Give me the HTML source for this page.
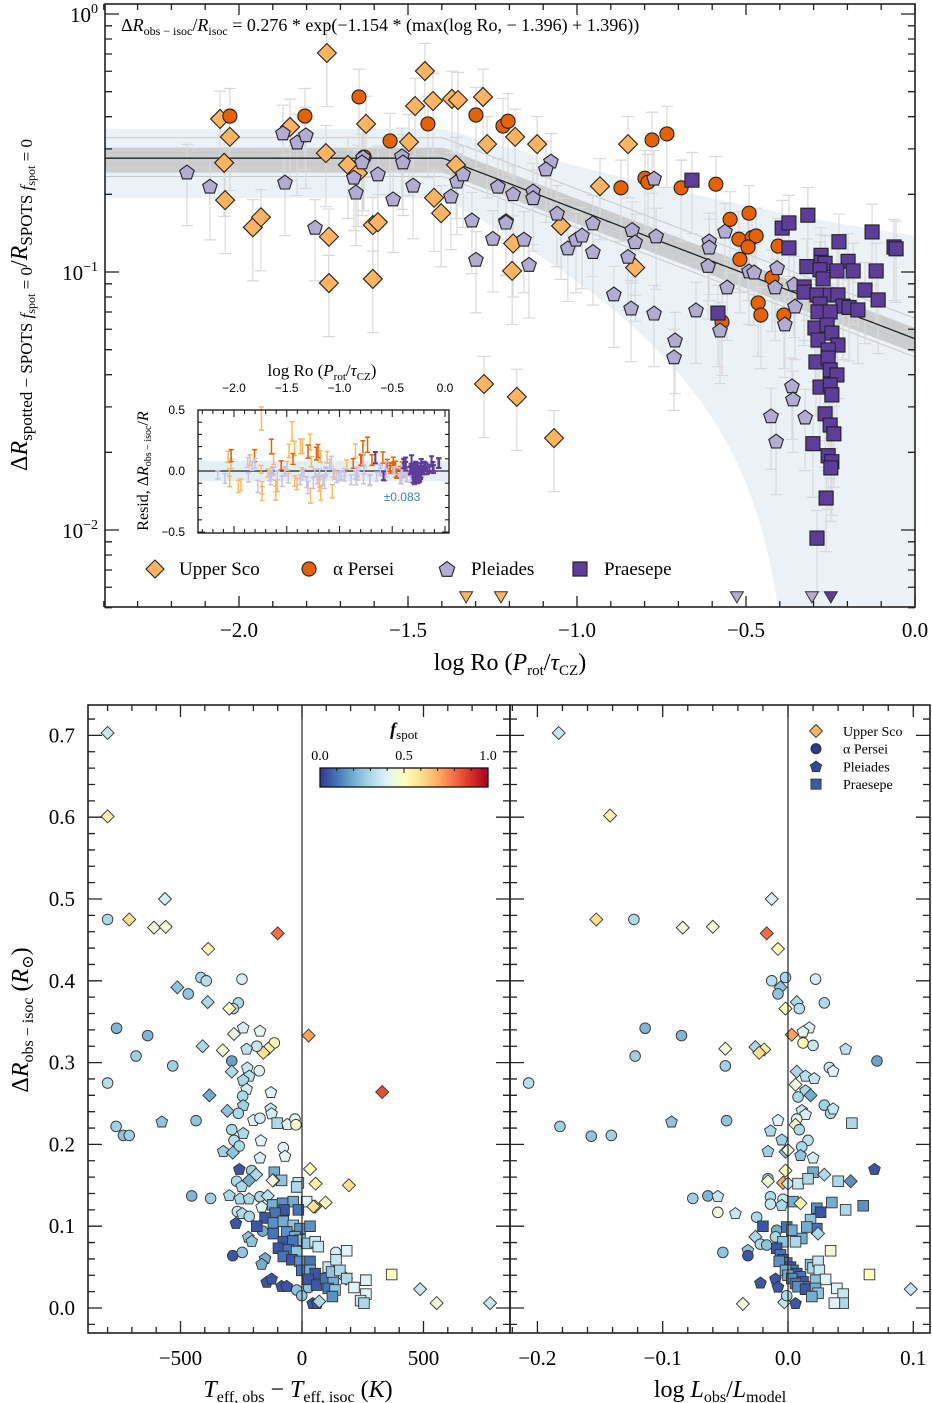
<!DOCTYPE html>
<html><head><meta charset="utf-8">
<style>
html,body{margin:0;padding:0;background:#fff;}
svg{display:block;font-family:"Liberation Serif","DejaVu Serif",serif;}
</style></head>
<body>
<svg id="fig" width="932" height="1403" viewBox="0 0 932 1403" xmlns="http://www.w3.org/2000/svg">
  <rect x="0" y="0" width="932" height="1403" fill="#fff"/>
  <g id="topBands"></g>
  <g id="topErr"></g>
  <g id="topFit"></g>
  <g id="topMarks"></g>
  <g id="topAxes"></g>
  <text x="121" y="31" font-size="18">Δ<tspan font-style="italic">R</tspan><tspan font-size="12" dy="4">obs − isoc</tspan><tspan dy="-4">/</tspan><tspan font-style="italic">R</tspan><tspan font-size="12" dy="4">isoc</tspan><tspan dy="-4"> = 0.276 * exp(−1.154 * (max(log Ro, − 1.396) + 1.396))</tspan></text>
  <g id="inset"></g>
  <g id="topLegend"></g>
  <text x="510" y="670" font-size="24" text-anchor="middle">log Ro (<tspan font-style="italic">P</tspan><tspan font-size="15" dy="5">rot</tspan><tspan dy="-5">/</tspan><tspan font-style="italic">τ</tspan><tspan font-size="15" dy="5">CZ</tspan><tspan dy="-5">)</tspan></text>
  <text transform="translate(27,305) rotate(-90)" font-size="24" text-anchor="middle">Δ<tspan font-style="italic">R</tspan><tspan font-size="17" dy="5">spotted − SPOTS <tspan font-style="italic">f</tspan><tspan font-size="12" dy="3">spot</tspan><tspan dy="-3"> = 0</tspan></tspan><tspan dy="-5">/</tspan><tspan font-style="italic">R</tspan><tspan font-size="17" dy="5">SPOTS <tspan font-style="italic">f</tspan><tspan font-size="12" dy="3">spot</tspan><tspan dy="-3"> = 0</tspan></tspan></text>
  <g id="blMarks"></g>
  <g id="brMarks"></g>
  <g id="botAxes"></g>
  <g id="cbar"></g>
  <g id="brLegend"></g>
  <text x="298" y="1397" font-size="24" text-anchor="middle"><tspan font-style="italic">T</tspan><tspan font-size="16" dy="5">eff, obs</tspan><tspan dy="-5"> − </tspan><tspan font-style="italic">T</tspan><tspan font-size="16" dy="5">eff, isoc</tspan><tspan dy="-5"> (</tspan><tspan font-style="italic">K</tspan>)</text>
  <text x="720" y="1397" font-size="24" text-anchor="middle">log <tspan font-style="italic">L</tspan><tspan font-size="16" dy="5">obs</tspan><tspan dy="-5">/</tspan><tspan font-style="italic">L</tspan><tspan font-size="16" dy="5">model</tspan></text>
  <text transform="translate(28,1020) rotate(-90)" font-size="24" text-anchor="middle">Δ<tspan font-style="italic">R</tspan><tspan font-size="16" dy="5">obs − isoc</tspan><tspan dy="-5"> (</tspan><tspan font-style="italic">R</tspan><tspan font-size="16" dy="5">⊙</tspan><tspan dy="-5">)</tspan></text>
</svg>
<script>
// ---------- data: top panel (logRo, dR) ----------
const usco = [[-1.740,0.706],[-1.450,0.601],[-2.056,0.392],[-2.027,0.334],[-1.624,0.375],[-1.479,0.440],[-1.426,0.460],[-1.370,0.469],[-1.352,0.464],[-1.278,0.477],[-1.266,0.313],[-1.849,0.365],[-2.044,0.265],[-2.041,0.190],[-1.743,0.289],[-1.678,0.260],[-1.648,0.242],[-1.497,0.319],[-1.358,0.260],[-1.423,0.194],[-1.402,0.169],[-1.959,0.149],[-1.935,0.163],[-1.734,0.137],[-1.734,0.0906],[-1.604,0.152],[-1.589,0.156],[-1.604,0.094],[-1.183,0.334],[-1.118,0.313],[-0.849,0.313],[-0.932,0.215],[-1.047,0.151],[-1.189,0.129],[-1.192,0.101],[-0.828,0.104],[-1.275,0.0368],[-1.178,0.0328],[-1.068,0.0227]];
const aper = [[-2.027,0.402],[-1.805,0.402],[-1.645,0.477],[-1.441,0.375],[-1.553,0.322],[-1.630,0.279],[-1.299,0.406],[-1.219,0.368],[-1.204,0.384],[-0.778,0.325],[-0.734,0.343],[-0.799,0.231],[-0.790,0.223],[-0.870,0.212],[-0.692,0.212],[-0.589,0.219],[-0.547,0.160],[-0.491,0.169],[-0.521,0.134],[-0.482,0.136],[-0.470,0.138],[-0.494,0.125],[-0.518,0.112],[-0.405,0.126],[-0.423,0.095],[-0.464,0.0759],[-0.456,0.0681],[-0.571,0.0640],[-0.388,0.0681]];
const plei = [[-2.154,0.244],[-2.086,0.215],[-1.864,0.223],[-1.870,0.346],[-1.828,0.319],[-1.802,0.340],[-1.775,0.149],[-1.654,0.204],[-1.660,0.233],[-1.633,0.279],[-1.636,0.267],[-1.589,0.240],[-1.544,0.192],[-1.518,0.282],[-1.515,0.267],[-1.485,0.217],[-1.373,0.197],[-1.355,0.225],[-1.337,0.240],[-1.311,0.159],[-1.299,0.112],[-1.249,0.135],[-1.234,0.215],[-1.210,0.158],[-1.189,0.201],[-1.077,0.269],[-1.092,0.251],[-1.130,0.206],[-1.130,0.194],[-1.210,0.156],[-1.059,0.169],[-1.157,0.134],[-1.142,0.107],[-1.027,0.124],[-1.003,0.134],[-0.985,0.139],[-0.953,0.155],[-0.953,0.120],[-0.837,0.146],[-0.828,0.131],[-0.766,0.138],[-0.849,0.115],[-0.891,0.0822],[-0.840,0.0725],[-0.772,0.0693],[-0.648,0.0713],[-0.612,0.106],[-0.609,0.132],[-0.609,0.125],[-0.562,0.144],[-0.556,0.0875],[-0.491,0.101],[-0.476,0.100],[-0.408,0.104],[-0.414,0.0875],[-0.358,0.0898],[-0.355,0.0738],[-0.772,0.231],[-0.710,0.0545],[-0.713,0.0469],[-0.577,0.0596],[-0.364,0.0362],[-0.361,0.0322],[-0.426,0.0277],[-0.325,0.0274],[-0.411,0.0221],[-0.385,0.0629]];
const prae = [[-0.660,0.227],[-0.393,0.148],[-0.373,0.155],[-0.317,0.166],[-0.373,0.124],[-0.127,0.143],[-0.225,0.131],[-0.062,0.125],[-0.056,0.123],[-0.278,0.116],[-0.278,0.109],[-0.266,0.108],[-0.198,0.110],[-0.320,0.105],[-0.281,0.102],[-0.231,0.101],[-0.183,0.101],[-0.115,0.101],[-0.272,0.094],[-0.328,0.0875],[-0.148,0.0851],[-0.109,0.0779],[-0.328,0.0836],[-0.290,0.0815],[-0.251,0.0815],[-0.228,0.0815],[-0.281,0.0751],[-0.213,0.0738],[-0.195,0.0729],[-0.169,0.0713],[-0.287,0.070],[-0.251,0.070],[-0.583,0.0693],[-0.296,0.0607],[-0.260,0.0623],[-0.246,0.0580],[-0.287,0.0545],[-0.228,0.0521],[-0.257,0.0499],[-0.293,0.0448],[-0.257,0.0464],[-0.251,0.0417],[-0.231,0.0399],[-0.281,0.0358],[-0.251,0.0365],[-0.246,0.0334],[-0.266,0.0282],[-0.251,0.0255],[-0.240,0.0236],[-0.302,0.0216],[-0.257,0.0194],[-0.246,0.0184],[-0.249,0.0174],[-0.263,0.0133],[-0.290,0.0093]];
const uscoLimits = [-1.328,-1.225];
const pleiLimits = [-0.527,-0.305];
const praeLimits = [-0.249];
const fitAmp = 0.276, fitSlope = 1.154, fitKnee = -1.396, residScatter = 0.083;

// ---------- data: bottom panels [cluster, x, dR, fspot] ----------
const teffStars = [['U',-800,0.703,0.35],['U',-800,0.601,0.55],['U',-564,0.500,0.38],['A',-800,0.475,0.3],['U',-711,0.475,0.6],['U',-609,0.465,0.45],['U',-561,0.466,0.47],['U',-100,0.458,0.8],['U',-386,0.439,0.52],['A',-416,0.404,0.3],['A',-394,0.400,0.32],['A',-247,0.402,0.38],['U',-513,0.392,0.25],['A',-468,0.384,0.25],['U',-388,0.374,0.3],['A',-262,0.373,0.3],['A',-283,0.366,0.32],['U',-299,0.366,0.5],['A',-763,0.342,0.22],['A',-635,0.333,0.22],['P',-242,0.343,0.38],['U',-280,0.335,0.43],['P',-173,0.339,0.42],['A',-114,0.324,0.52],['U',27,0.333,0.72],['U',-139,0.317,0.55],['U',-159,0.312,0.6],['A',-186,0.320,0.35],['P',-228,0.317,0.33],['U',-326,0.315,0.45],['U',-409,0.320,0.3],['A',-683,0.308,0.28],['A',-532,0.296,0.28],['A',-800,0.275,0.32],['A',-289,0.302,0.18],['U',-289,0.289,0.3],['P',-225,0.294,0.35],['P',-217,0.284,0.32],['A',-176,0.290,0.4],['P',-242,0.279,0.3],['P',-228,0.268,0.38],['A',-244,0.259,0.3],['P',-242,0.248,0.28],['P',-128,0.264,0.4],['U',-381,0.260,0.2],['U',-307,0.241,0.25],['A',-262,0.238,0.3],['P',-129,0.244,0.35],['P',-125,0.238,0.38],['P',-577,0.228,0.25],['A',-436,0.229,0.25],['A',-765,0.222,0.28],['A',-735,0.211,0.25],['A',-711,0.211,0.28],['P',-200,0.230,0.4],['A',-173,0.232,0.38],['R',-102,0.226,0.3],['P',-60,0.225,0.4],['A',-29,0.231,0.42],['A',-25,0.224,0.48],['A',-289,0.218,0.3],['P',-242,0.214,0.3],['A',-280,0.205,0.33],['A',-258,0.198,0.3],['P',-324,0.192,0.28],['U',-285,0.190,0.25],['P',-169,0.205,0.4],['P',-173,0.184,0.38],['A',-77,0.196,0.4],['P',-70,0.186,0.42],['P',-258,0.170,0.05],['A',-207,0.168,0.28],['U',-189,0.163,0.3],['U',33,0.170,0.5],['U',56,0.152,0.55],['U',193,0.150,0.6],['R',-114,0.166,0.2],['R',-84,0.156,0.25],['U',-118,0.156,0.45],['R',-15,0.153,0.35],['R',-22,0.148,0.3],['A',-269,0.155,0.3],['P',-248,0.149,0.3],['U',-218,0.156,0.2],['A',-454,0.137,0.22],['A',-376,0.134,0.28],['P',-299,0.138,0.3],['P',-255,0.134,0.3],['P',-218,0.134,0.3],['A',-173,0.136,0.3],['U',-141,0.137,0.33],['R',19,0.130,0.4],['U',97,0.129,0.5],['U',54,0.124,0.55],['P',-166,0.124,0.4],['A',-266,0.118,0.35],['P',-246,0.116,0.3],['A',-217,0.112,0.3],
['P',-272,0.104,0.05],['P',-221,0.087,0.25],['P',-207,0.082,0.25],['A',-162,0.094,0.2],['A',-285,0.064,0.05],['A',-246,0.068,0.25],['P',-152,0.061,0.2],['P',-166,0.054,0.2],['P',-145,0.032,0.05],['P',-125,0.036,0.05],['P',-84,0.027,0.05],['P',-63,0.027,0.05],['A',-22,0.022,0.25],['A',-1,0.015,0.25],['A',27,0.025,0.25],['P',44,0.006,0.05],['P',63,0.006,0.05],['U',71,0.008,0.3],['A',139,0.068,0.38],['U',181,0.036,0.3],['U',486,0.023,0.35],['U',554,0.006,0.45],['U',774,0.006,0.35],['U',330,0.264,0.85],['U',-121,0.156,0.45],['U',47,0.124,0.6],
['R',-121,0.126,0.2],['R',-80,0.128,0.15],['R',-36,0.130,0.2],['R',-15,0.120,0.1],['R',-74,0.120,0.05],['R',-111,0.116,0.1],['R',-152,0.110,0.05],['R',-186,0.100,0.05],['R',-118,0.104,0.15],['R',-77,0.106,0.2],['R',-36,0.101,0.25],['R',-8,0.097,0.15],['R',33,0.100,0.15],['R',-118,0.091,0.1],['R',-63,0.093,0.15],['R',-29,0.087,0.2],['R',-8,0.083,0.25],['R',-77,0.081,0.05],['R',-38,0.082,0.1],['R',-97,0.073,0.05],['R',-56,0.071,0.1],['R',-22,0.069,0.25],['R',19,0.079,0.25],['R',54,0.081,0.35],['R',67,0.075,0.35],['R',-77,0.063,0.1],['R',-42,0.059,0.05],['R',-8,0.057,0.15],['R',33,0.057,0.1],['R',-1,0.046,0.1],['R',33,0.046,0.2],['R',54,0.042,0.05],['R',26,0.035,0.05],['R',60,0.028,0.05],['R',97,0.036,0.1],['R',129,0.034,0.2],['R',108,0.024,0.1],['R',136,0.022,0.25],['R',125,0.014,0.15],['R',108,0.050,0.35],['R',122,0.044,0.25],['R',156,0.046,0.3],['R',184,0.070,0.4],['R',140,0.059,0.35],['R',184,0.036,0.3],['R',263,0.034,0.4],['R',214,0.025,0.4],['R',263,0.017,0.4],['R',241,0.009,0.35],['R',255,0.006,0.3],['R',369,0.041,0.5]];
const lumStars = [['U',-0.183,0.703,0.35],['U',-0.142,0.602,0.55],['U',-0.153,0.475,0.6],['A',-0.123,0.475,0.3],['U',-0.084,0.465,0.45],['U',-0.060,0.466,0.47],['U',-0.013,0.500,0.38],['U',-0.017,0.458,0.8],['U',-0.008,0.439,0.52],['A',-0.013,0.400,0.32],['A',-0.002,0.404,0.3],['A',0.022,0.402,0.38],['U',-0.006,0.392,0.25],['A',-0.008,0.384,0.25],['U',0.007,0.374,0.3],['A',0.009,0.366,0.32],['A',0.029,0.373,0.3],['U',-0.002,0.366,0.5],['A',-0.114,0.342,0.22],['A',-0.085,0.333,0.22],['P',0.017,0.343,0.38],['P',0.012,0.338,0.42],['U',0.003,0.334,0.72],['A',0.012,0.324,0.52],['A',0.020,0.321,0.35],['P',0.046,0.317,0.33],['U',-0.050,0.317,0.45],['U',-0.026,0.319,0.3],['U',-0.019,0.316,0.55],['U',-0.023,0.312,0.6],['A',-0.122,0.308,0.28],['A',-0.050,0.296,0.28],['A',-0.207,0.275,0.32],['A',0.071,0.302,0.18],['U',0.007,0.289,0.3],['P',0.014,0.284,0.32],['P',0.021,0.281,0.35],['A',0.033,0.294,0.35],['P',0.036,0.290,0.4],['U',0.006,0.273,0.45],['P',0.014,0.266,0.3],['U',0.018,0.260,0.2],['A',0.008,0.258,0.3],['A',0.029,0.248,0.28],['A',0.034,0.238,0.3],['P',0.036,0.244,0.35],['P',0.011,0.242,0.35],['P',0.014,0.237,0.38],['A',0.007,0.231,0.42],['U',0.006,0.224,0.48],['A',0.009,0.218,0.3],['A',0.016,0.205,0.33],['A',0.011,0.197,0.3],['P',0.010,0.187,0.25],['P',0.020,0.184,0.38],['R',0.051,0.226,0.3],['P',-0.008,0.230,0.4],['P',-0.014,0.217,0.3],['P',-0.005,0.206,0.28],['P',-0.016,0.192,0.28],['U',-0.002,0.191,0.25],['U',0.000,0.193,0.45],['P',-0.093,0.228,0.25],['A',-0.049,0.229,0.25],['A',-0.182,0.222,0.28],['A',-0.157,0.210,0.25],['A',-0.141,0.211,0.28],['P',0.069,0.170,0.05],['U',-0.002,0.168,0.5],['R',0.020,0.166,0.2],['U',0.029,0.163,0.3],['R',0.040,0.155,0.3],['U',0.050,0.155,0.15],['A',-0.016,0.158,0.3],['U',-0.016,0.155,0.45],['U',-0.004,0.153,0.7],['U',0.000,0.152,0.35],['R',0.008,0.152,0.35],['R',0.016,0.158,0.3],['A',-0.076,0.134,0.28],['A',-0.064,0.137,0.22],['P',-0.056,0.137,0.35],['A',-0.056,0.117,0.45],['P',-0.042,0.116,0.35],['A',-0.025,0.111,0.3],['A',-0.014,0.136,0.3],['A',-0.014,0.127,0.35],['A',-0.004,0.133,0.35],['R',0.004,0.130,0.2],['U',0.010,0.128,0.55],['P',-0.005,0.126,0.3],['R',0.035,0.129,0.2],['R',0.060,0.125,0.15],['R',0.046,0.120,0.3],['R',0.023,0.122,0.15],['R',0.026,0.117,0.05],['R',0.018,0.108,0.25],['R',0.023,0.097,0.1],['R',0.015,0.099,0.2],['R',0.011,0.085,0.2],['U',0.024,0.091,0.3],['R',0.034,0.070,0.45],['R',-0.020,0.100,0.05],['A',-0.009,0.095,0.2],['R',-0.001,0.099,0.1],['R',0.003,0.095,0.2],['A',-0.010,0.087,0.3],['R',-0.004,0.081,0.25],['R',0.006,0.081,0.3],['U',-0.026,0.087,0.3],['A',-0.022,0.078,0.3],['A',-0.017,0.077,0.25],['P',-0.032,0.071,0.25],['A',-0.052,0.068,0.25],['A',-0.032,0.064,0.05],
['R',-0.009,0.073,0.05],['R',-0.006,0.065,0.1],['R',-0.004,0.059,0.05],['R',-0.001,0.055,0.1],['R',0.002,0.050,0.05],['R',0.004,0.046,0.1],['R',0.007,0.042,0.05],['R',0.010,0.038,0.1],['R',0.012,0.032,0.05],['R',0.015,0.026,0.1],['R',-0.007,0.057,0.15],['R',-0.002,0.046,0.2],['R',0.000,0.040,0.2],['R',0.003,0.036,0.15],['R',0.006,0.030,0.1],['R',0.008,0.026,0.15],['R',0.014,0.023,0.05],['R',0.018,0.053,0.25],['R',0.020,0.049,0.3],['R',0.024,0.057,0.35],['R',0.025,0.046,0.35],['R',0.022,0.034,0.25],['R',0.030,0.035,0.4],['R',0.022,0.024,0.2],['R',0.024,0.018,0.25],['R',0.019,0.014,0.2],['R',0.039,0.024,0.4],['R',0.044,0.017,0.35],['R',0.044,0.006,0.3],['R',0.037,0.006,0.4],
['R',0.065,0.041,0.5],['U',0.098,0.023,0.35],['U',-0.036,0.005,0.45],['P',0.006,0.006,0.05],['U',-0.003,0.007,0.35],['A',-0.001,0.015,0.3],['P',-0.022,0.031,0.05],['P',-0.010,0.036,0.05],['P',-0.008,0.026,0.05]];
const cbarTicks = [0.0, 0.5, 1.0];
const legendNames = ['Upper Sco','α Persei','Pleiades','Praesepe'];

// ---------- helpers ----------
const NS = 'http://www.w3.org/2000/svg';
function mk(tag, attrs, parent) {
  const e = document.createElementNS(NS, tag);
  for (const k in attrs) e.setAttribute(k, attrs[k]);
  parent.appendChild(e);
  return e;
}
const $ = id => document.getElementById(id);

const TX0 = 105, TX1 = 915, TY0 = 4, TY1 = 607;
const tx = v => 915 + v * 338;
const ty = v => 14 - Math.log10(v) * 258;
const fit = x => fitAmp * Math.exp(-fitSlope * (Math.max(x, fitKnee) - fitKnee));

const BY0 = 705, BY1 = 1333;
const blx = v => 302 + v * 121.5 / 500;
const brx = v => 788 + v * 1253;
const by = v => 1308 - v * 818;

const cmStops = ['#313695','#4575b4','#74add1','#abd9e9','#e0f3f8','#ffffbf','#fee090','#fdae61','#f46d43','#d73027','#a50026'];
function hex2rgb(h){return [parseInt(h.substr(1,2),16),parseInt(h.substr(3,2),16),parseInt(h.substr(5,2),16)];}
function cmap(f){
  f = Math.max(0, Math.min(1, f));
  const p = f * 10, i = Math.min(9, Math.floor(p)), t = p - i;
  const a = hex2rgb(cmStops[i]), b = hex2rgb(cmStops[i+1]);
  return 'rgb(' + a.map((c,k)=>Math.round(c + (b[k]-c)*t)).join(',') + ')';
}

function shapePath(type, cx, cy, s) {
  if (type === 'U') return `M${cx},${cy-s}L${cx+s},${cy}L${cx},${cy+s}L${cx-s},${cy}Z`;
  if (type === 'R') { const h = s*0.78; return `M${cx-h},${cy-h}H${cx+h}V${cy+h}H${cx-h}Z`; }
  if (type === 'P') {
    let d = '';
    for (let i = 0; i < 5; i++) {
      const a = -Math.PI/2 + i * 2*Math.PI/5;
      d += (i ? 'L' : 'M') + (cx + s*0.9*Math.cos(a)).toFixed(1) + ',' + (cy + s*0.9*Math.sin(a) + s*0.08).toFixed(1);
    }
    return d + 'Z';
  }
  if (type === 'T') return `M${cx-s},${cy-s*0.8}L${cx+s},${cy-s*0.8}L${cx},${cy+s*0.9}Z`;
  return null;
}
function marker(parent, type, cx, cy, s, fill, stroke, sw) {
  let el;
  if (type === 'A') el = mk('circle', {cx: cx, cy: cy, r: s*0.78, fill: fill, stroke: stroke, 'stroke-width': sw}, parent);
  else el = mk('path', {d: shapePath(type, cx, cy, s), fill: fill, stroke: stroke, 'stroke-width': sw, 'stroke-linejoin': 'miter'}, parent);
  return el;
}

// ---------- top panel ----------
const topColors = {U: '#fdb462', A: '#e66101', P: '#b2abd2', R: '#5e3c99'};
const topSeries = [['U', usco, 'upper-sco'], ['A', aper, 'alpha-persei'], ['P', plei, 'pleiades'], ['R', prae, 'praesepe']];
(function drawTop(){
  const bands = $('topBands');
  const defs = mk('defs', {}, $('fig'));
  const cp = mk('clipPath', {id: 'topClip'}, defs);
  mk('rect', {x: TX0, y: TY0, width: TX1-TX0, height: TY1-TY0}, cp);
  bands.setAttribute('clip-path', 'url(#topClip)');
  $('topErr').setAttribute('clip-path', 'url(#topClip)');
  $('topFit').setAttribute('clip-path', 'url(#topClip)');
  let up = '', lo = '';
  const xs = [];
  for (let x = -2.4; x <= 0.0001; x += 0.01) xs.push(x);
  xs.forEach((x,i)=>{ up += (i?'L':'M') + tx(x).toFixed(1) + ',' + ty(fit(x)+residScatter).toFixed(1); });
  xs.slice().reverse().forEach(x=>{ const v = fit(x)-residScatter; lo += 'L' + tx(x).toFixed(1) + ',' + (v > 0.001 ? ty(v) : 700).toFixed(1); });
  const blue = mk('path', {d: up + lo + 'Z', fill: '#e3eef5', opacity: 0.75}, bands);
  
  
  let gu = '', gl = '';
  xs.forEach((x,i)=>{ gu += (i?'L':'M') + tx(x).toFixed(1) + ',' + ty(fit(x)*1.1).toFixed(1); });
  xs.slice().reverse().forEach(x=>{ gl += 'L' + tx(x).toFixed(1) + ',' + ty(fit(x)*0.88).toFixed(1); });
  const gray = mk('path', {d: gu + gl + 'Z', fill: '#bdbdbd', opacity: 0.7}, bands);
  
  
  [1.2, 1.05, 0.95, 0.85].forEach(m=>{
    let d=''; xs.forEach((x,i)=>{ d += (i?'L':'M') + tx(x).toFixed(1) + ',' + ty(fit(x)*m).toFixed(1); });
    const l = mk('path', {d: d, fill: 'none', stroke: '#c8c8c8', 'stroke-width': 1}, bands);
    
    
  });
  let fd=''; xs.forEach((x,i)=>{ fd += (i?'L':'M') + tx(x).toFixed(1) + ',' + ty(fit(x)).toFixed(1); });
  const fl = mk('path', {d: fd, fill: 'none', stroke: '#222', 'stroke-width': 1.3}, $('topFit'));
  
  
  const eg = $('topErr'), mg = $('topMarks');
  topSeries.forEach(([t, arr, nm])=>{
    arr.forEach(([x, v])=>{
      const px = tx(x), lo2 = Math.max(v*0.62, 0.003), hi2 = v*1.28;
      const eb = mk('path', {d: `M${px},${ty(lo2)}V${ty(hi2)}M${px-6},${ty(lo2)}H${px+6}M${px-6},${ty(hi2)}H${px+6}`, stroke: '#d9d9d9', 'stroke-width': 1.2, fill: 'none'}, eg);
      
      
    });
  });
  topSeries.forEach(([t, arr, nm])=>{
    arr.forEach(([x, v])=>{
      const m = marker(mg, t, tx(x), ty(v), t==='U'?9.5:(t==='A'?9:(t==='P'?8.5:9)), topColors[t], '#222', 1.1);
      
      
    });
  });
  [[uscoLimits,'U','upper-sco'],[pleiLimits,'P','pleiades'],[praeLimits,'R','praesepe']].forEach(([arr,t,nm])=>{
    arr.forEach(x=>{
      const m = marker(mg, 'T', tx(x), 597, 6.5, topColors[t], '#333', 1);
      
      
    });
  });
  const ax = $('topAxes');
  const fr = mk('rect', {x: TX0, y: TY0, width: TX1-TX0, height: TY1-TY0, fill: 'none', stroke: '#222', 'stroke-width': 1.6}, ax);
  
  
  let td = '';
  for (let i = -24; i <= 0; i++) {
    const x = tx(i/10), L = (i % 5 === 0) ? 11 : 6;
    td += `M${x},${TY1}v${-L}M${x},${TY0}v${L}`;
  }
  for (let e = -3; e <= 0; e++) for (let k = 1; k <= 9; k++) {
    const v = k * Math.pow(10, e); if (v < 0.005 || v > 1.05) continue;
    const y = ty(v), L = k === 1 ? 14 : 7;
    td += `M${TX0},${y}h${L}M${TX1},${y}h${-L}`;
  }
  const tk = mk('path', {d: td, stroke: '#222', 'stroke-width': 1.3, fill: 'none'}, ax);
  
  
  ['−2.0','−1.5','−1.0','−0.5','0.0'].forEach((s,i)=>{
    const t = mk('text', {x: tx(-2 + i*0.5), y: 637, 'font-size': 21, 'text-anchor': 'middle'}, ax);
    t.textContent = s;
    
    
  });
  [[0,'0'],[-1,'−1'],[-2,'−2']].forEach(([e,s])=>{
    const t = mk('text', {x: 98, y: ty(Math.pow(10,e)) + 8, 'font-size': 21, 'text-anchor': 'end'}, ax);
    t.innerHTML = '10<tspan font-size="14" dy="-9">' + s + '</tspan>';
    
    
  });
})();

// ---------- inset ----------
(function drawInset(){
  const g = $('inset');
  const X0 = 198, X1 = 449, Y0 = 410, Y1 = 533;
  const ix = v => 445 + v * 105.5, iy = v => 471 - v * 122;
  const bg = mk('rect', {x: X0, y: Y0, width: X1-X0, height: Y1-Y0, fill: '#fff'}, g);
  
  
  const band = mk('rect', {x: X0, y: iy(residScatter), width: X1-X0, height: iy(-residScatter)-iy(residScatter), fill: '#e3eef5'}, g);
  
  
  const zl = mk('line', {x1: X0, x2: X1, y1: iy(0), y2: iy(0), stroke: '#222', 'stroke-width': 1.2}, g);
  
  
  const cols = {U: '#fdb863', A: '#e66101', P: '#c9c3e3', R: '#5e3c99'};
  topSeries.forEach(([t, arr, nm])=>{
    arr.forEach(([x, v])=>{
      let r = v - fit(x); r = Math.max(-0.48, Math.min(0.48, r));
      const px = ix(x), h = 0.03 + Math.abs(r)*0.15;
      const b = mk('path', {d: `M${px},${iy(r-h)}V${iy(r+h)}M${px-2.5},${iy(r-h)}h5M${px-2.5},${iy(r+h)}h5`, stroke: cols[t], 'stroke-width': t==='R'?2:1.5, fill: 'none'}, g);
      
      
    });
  });
  const fr = mk('rect', {x: X0, y: Y0, width: X1-X0, height: Y1-Y0, fill: 'none', stroke: '#222', 'stroke-width': 1.4}, g);
  
  
  let d = '';
  for (let i = -23; i <= 0; i++) { const x = ix(i/10), L = i % 5 === 0 ? 7 : 4; d += `M${x},${Y0}v${L}M${x},${Y1}v${-L}`; }
  for (let i = -5; i <= 5; i++) { const y = iy(i/10), L = i % 5 === 0 ? 7 : 4; d += `M${X0},${y}h${L}M${X1},${y}h${-L}`; }
  const tk = mk('path', {d: d, stroke: '#222', 'stroke-width': 1.1, fill: 'none'}, g);
  
  
  ['−2.0','−1.5','−1.0','−0.5','0.0'].forEach((s,i)=>{
    const t = mk('text', {x: ix(-2 + i*0.5), y: 392, 'font-size': 12, 'text-anchor': 'middle', 'font-family': 'Liberation Sans, sans-serif'}, g);
    t.textContent = s;
    
    
  });
  [['0.5',0.5],['0.0',0],['−0.5',-0.5]].forEach(([s,v])=>{
    const t = mk('text', {x: 185, y: iy(v)+4, 'font-size': 12, 'text-anchor': 'end', 'font-family': 'Liberation Sans, sans-serif'}, g);
    t.textContent = s;
    
    
  });
  const tt = mk('text', {x: 322, y: 376, 'font-size': 17, 'text-anchor': 'middle'}, g);
  tt.innerHTML = 'log Ro (<tspan font-style="italic">P</tspan><tspan font-size="11" dy="4">rot</tspan><tspan dy="-4">/</tspan><tspan font-style="italic">τ</tspan><tspan font-size="11" dy="4">CZ</tspan><tspan dy="-4">)</tspan>';
  
  
  const yt = mk('text', {transform: 'translate(148,471) rotate(-90)', 'font-size': 16, 'text-anchor': 'middle'}, g);
  yt.innerHTML = 'Resid, Δ<tspan font-style="italic">R</tspan><tspan font-size="10" dy="3">obs − isoc</tspan><tspan dy="-3">/</tspan><tspan font-style="italic">R</tspan>';
  
  
  const st = mk('text', {x: 402, y: 501, 'font-size': 12, 'text-anchor': 'middle', fill: '#3182bd', 'font-family': 'Liberation Sans, sans-serif'}, g);
  st.textContent = '±' + residScatter.toFixed(3);
  
  
})();

// ---------- top legend ----------
(function(){
  const g = $('topLegend');
  const xs = [155, 309, 447, 580], types = ['U','A','P','R'];
  types.forEach((t,i)=>{
    const m = marker(g, t, xs[i], 569, 9, topColors[t], '#222', 1.1);
    
    
    const tx2 = mk('text', {x: xs[i] + 24, y: 575, 'font-size': 19}, g);
    tx2.textContent = legendNames[i];
    
    
  });
})();

// ---------- bottom panels ----------
(function(){
  const defs = $('fig').querySelector('defs');
  const c1 = mk('clipPath', {id: 'blClip'}, defs); mk('rect', {x: 88, y: BY0, width: 422, height: BY1-BY0}, c1);
  const c2 = mk('clipPath', {id: 'brClip'}, defs); mk('rect', {x: 510, y: BY0, width: 420, height: BY1-BY0}, c2);
  $('blMarks').setAttribute('clip-path', 'url(#blClip)');
  $('brMarks').setAttribute('clip-path', 'url(#brClip)');
  const nm = {U: 'upper-sco', A: 'alpha-persei', P: 'pleiades', R: 'praesepe'};
  teffStars.forEach(([t, x, v, f])=>{
    const m = marker($('blMarks'), t, blx(x), by(v), t==='U'?6.5:6.8, cmap(f), '#333', 0.9);
    
    
  });
  lumStars.forEach(([t, x, v, f])=>{
    const m = marker($('brMarks'), t, brx(x), by(v), t==='U'?6.5:6.8, cmap(f), '#333', 0.9);
    
    
  });
  const ax = $('botAxes');
  [[302,'teff-zero-line'],[788,'lum-zero-line']].forEach(([x,n])=>{
    const l = mk('line', {x1: x, x2: x, y1: BY0, y2: BY1, stroke: '#222', 'stroke-width': 1.2}, ax);
    
    
  });
  [[88,510,'teff-plot-frame'],[510,930,'lum-plot-frame']].forEach(([a,b,n])=>{
    const r = mk('rect', {x: a, y: BY0, width: b-a, height: BY1-BY0, fill: 'none', stroke: '#222', 'stroke-width': 1.6}, ax);
    
    
  });
  let d = '';
  for (let k = -8; k <= 8; k++) { const x = blx(k*100), L = k % 5 === 0 ? 12 : 6; d += `M${x},${BY1}v${-L}M${x},${BY0}v${L}`; }
  for (let k = -11; k <= 5; k++) { const x = brx(k*0.02), L = k % 5 === 0 ? 12 : 6; d += `M${x},${BY1}v${-L}M${x},${BY0}v${L}`; }
  for (let k = -1; k <= 36; k++) { const y = by(k*0.02); if (y < BY0 || y > BY1) continue; const L = k % 5 === 0 ? 14 : 7; d += `M88,${y}h${L}M510,${y}h${-L}M510,${y}h${L}M930,${y}h${-L}`; }
  const tk = mk('path', {d: d, stroke: '#222', 'stroke-width': 1.3, fill: 'none'}, ax);
  
  
  [[-500,'−500'],[0,'0'],[500,'500']].forEach(([v,s])=>{
    const t = mk('text', {x: blx(v), y: 1365, 'font-size': 21, 'text-anchor': 'middle'}, ax);
    t.textContent = s;
    
    
  });
  [[-0.2,'−0.2'],[-0.1,'−0.1'],[0,'0.0'],[0.1,'0.1']].forEach(([v,s])=>{
    const t = mk('text', {x: brx(v), y: 1365, 'font-size': 21, 'text-anchor': 'middle'}, ax);
    t.textContent = s;
    
    
  });
  for (let k = 0; k <= 7; k++) {
    const t = mk('text', {x: 75, y: by(k/10) + 7, 'font-size': 21, 'text-anchor': 'end'}, ax);
    t.textContent = (k/10).toFixed(1);
    
    
  }
  const cb = $('cbar');
  const grad = mk('linearGradient', {id: 'cmGrad', x1: 0, x2: 1, y1: 0, y2: 0}, defs);
  cmStops.forEach((c,i)=> mk('stop', {offset: i/10, 'stop-color': c}, grad));
  const cx0 = 320, cx1 = 488;
  const cr = mk('rect', {x: cx0, y: 768, width: cx1-cx0, height: 19, fill: 'url(#cmGrad)', stroke: '#111', 'stroke-width': 1.3}, cb);
  
  
  let cd = '';
  for (let k = 1; k < 10; k++) { const x = cx0 + (cx1-cx0)*k/10; cd += `M${x},768v${k%5===0?5:3}`; }
  const ct = mk('path', {d: cd, stroke: '#111', 'stroke-width': 1}, cb);
  
  
  cbarTicks.forEach(v=>{
    const t = mk('text', {x: cx0 + (cx1-cx0)*v, y: 760, 'font-size': 14, 'text-anchor': 'middle'}, cb);
    t.textContent = v.toFixed(1);
    
    
  });
  const ctl = mk('text', {x: 404, y: 735, 'font-size': 18, 'text-anchor': 'middle', 'font-weight': 'bold'}, cb);
  ctl.innerHTML = '<tspan font-style="italic">f</tspan><tspan font-size="13" dy="4" font-weight="normal">spot</tspan>';
  
  
  const lg = $('brLegend');
  const lcols = ['#fdb462', '#2b3990', '#2b4a9c', '#3a5ca8'];
  ['U','A','P','R'].forEach((t,i)=>{
    const y = 731 + i*17.7;
    const m = marker(lg, t, 816, y, 6.5, lcols[i], '#333', 0.9);
    
    
    const tl = mk('text', {x: 843, y: y + 5, 'font-size': 14}, lg);
    tl.textContent = legendNames[i];
    
    
  });
})();
</script>
</body></html>
